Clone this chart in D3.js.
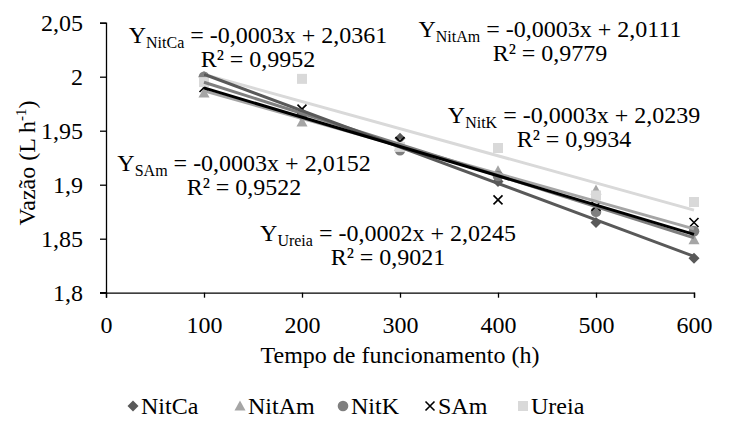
<!DOCTYPE html>
<html><head><meta charset="utf-8">
<script src="https://cdn.jsdelivr.net/npm/d3@7"></script>
<style>body{margin:0;background:#fff}svg{display:block}svg text{font-family:"Liberation Serif","Tinos","Times New Roman","DejaVu Serif",serif}</style>
</head><body><svg id="c" width="731" height="427"></svg>
<script>
const hours = [100, 200, 300, 400, 500, 600];
const nitCa = [2.000, 1.965, 1.943, 1.903, 1.865, 1.832];
const nitAm = [1.985, 1.958, 1.938, 1.913, 1.895, 1.849];
const nitK  = [2.000, 1.965, 1.932, 1.908, 1.875, 1.857];
const sAm   = [1.990, 1.970, 1.940, 1.886, 1.880, 1.865];
const ureia = [1.995, 1.998, 1.935, 1.934, 1.890, 1.884];
const xTicks = [0, 100, 200, 300, 400, 500, 600];
const yTicks = [1.8, 1.85, 1.9, 1.95, 2.0, 2.05];
const seriesNames = ["NitCa", "NitAm", "NitK", "SAm", "Ureia"];
const equations = [
  {sub:"NitCa", eq:" = -0,0003x + 2,0361", r2:"R² = 0,9952"},
  {sub:"NitAm", eq:" = -0,0003x + 2,0111", r2:"R² = 0,9779"},
  {sub:"NitK",  eq:" = -0,0003x + 2,0239", r2:"R² = 0,9934"},
  {sub:"SAm",   eq:" = -0,0003x + 2,0152", r2:"R² = 0,9522"},
  {sub:"Ureia", eq:" = -0,0002x + 2,0245", r2:"R² = 0,9021"}
];
// label anchor positions (pixel layout, not data)
const eqPos = [[258, 43], [550, 37], [574, 123], [244, 171], [388, 241]];

const FONT = "'Liberation Serif', Tinos, 'Times New Roman', 'DejaVu Serif', serif";
const svg = d3.select("#c");
const x = d3.scaleLinear().domain([0, 600]).range([106, 694]);
const y = d3.scaleLinear().domain([1.8, 2.05]).range([292.7, 22.7]);
const fmt = d => String(d).replace(".", ",");

const data = [nitCa, nitAm, nitK, sAm, ureia];
const colors = ["#595959", "#a5a5a5", "#7f7f7f", "#000000", "#d9d9d9"];
const lineColors = ["#595959", "#a5a5a5", "#7f7f7f", "#000000", "#d9d9d9"];

function marker(g, i, cx, cy) {
  const c = colors[i];
  if (i === 0) g.append("path").attr("d", `M${cx},${cy-5.5}L${cx+5.5},${cy}L${cx},${cy+5.5}L${cx-5.5},${cy}Z`).attr("fill", c);
  else if (i === 1) g.append("path").attr("d", `M${cx},${cy-5.5}L${cx+5.5},${cy+4.5}L${cx-5.5},${cy+4.5}Z`).attr("fill", c);
  else if (i === 2) g.append("circle").attr("cx", cx).attr("cy", cy).attr("r", 5.3).attr("fill", c);
  else if (i === 3) g.append("path").attr("d", `M${cx-4.5},${cy-4.5}L${cx+4.5},${cy+4.5}M${cx-4.5},${cy+4.5}L${cx+4.5},${cy-4.5}`).attr("stroke", c).attr("stroke-width", 1.6);
  else g.append("rect").attr("x", cx-5).attr("y", cy-5).attr("width", 10).attr("height", 10).attr("fill", c);
}

// axes
const xa = svg.append("g").attr("transform", `translate(0,${y(1.8)})`)
  .call(d3.axisBottom(x).tickValues(xTicks).tickSize(5).tickPadding(18).tickFormat(d => d));
const ya = svg.append("g").attr("transform", `translate(${x(0)},0)`)
  .call(d3.axisLeft(y).tickValues(yTicks).tickSize(6).tickPadding(17).tickFormat(fmt));
[xa, ya].forEach(a => {
  a.attr("font-family", FONT).attr("font-size", 24);
  a.select(".domain").attr("stroke", "#000").attr("stroke-width", 1.3);
  a.selectAll(".tick line").attr("stroke", "#000").attr("stroke-width", 1.3);
  a.selectAll("text").attr("font-size", 24).attr("fill", "#000").attr("font-family", FONT);
});
svg.append("line").attr("x1", x(0) - 6).attr("x2", x(0)).attr("y1", y(1.8)).attr("y2", y(1.8)).attr("stroke", "#000").attr("stroke-width", 1.3);

// markers
data.forEach((vals, i) => {
  const g = svg.append("g");
  vals.forEach((v, j) => marker(g, i, x(hours[j]), y(v)));
});

// trendlines (least squares from data)
function fit(vals) {
  const mx = d3.mean(hours), my = d3.mean(vals);
  let sxy = 0, sxx = 0;
  hours.forEach((h, i) => { sxy += (h - mx) * (vals[i] - my); sxx += (h - mx) ** 2; });
  const b = sxy / sxx; return {b, a: my - b * mx};
}
[4, 1, 2, 0, 3].forEach(i => {
  const f = fit(data[i]);
  svg.append("line")
    .attr("x1", x(100)).attr("y1", y(f.a + f.b * 100))
    .attr("x2", x(600)).attr("y2", y(f.a + f.b * 600))
    .attr("stroke", lineColors[i]).attr("stroke-width", 3);
});

// equations
equations.forEach((e, k) => {
  const [cx, cy] = eqPos[k];
  const t = svg.append("text").attr("x", cx).attr("y", cy).attr("text-anchor", "middle")
    .attr("font-size", 24).attr("font-family", FONT).attr("fill", "#000");
  t.append("tspan").text("Y");
  t.append("tspan").text(e.sub).attr("font-size", 16).attr("dy", 5);
  t.append("tspan").text(e.eq).attr("dy", -5);
  svg.append("text").attr("x", cx).attr("y", cy + 24).attr("text-anchor", "middle")
    .attr("font-size", 24).attr("font-family", FONT).attr("fill", "#000").text(e.r2);
});

// axis titles
svg.append("text").attr("transform", `translate(35,${163}) rotate(-90)`)
  .attr("text-anchor", "middle").attr("font-size", 24).attr("font-family", FONT).attr("fill", "#000")
  .call(t => { t.append("tspan").text("Vazão (L h"); t.append("tspan").text("-1").attr("font-size", 15).attr("dy", -9); t.append("tspan").text(")").attr("dy", 9); });
svg.append("text").attr("x", (x(0) + x(600)) / 2).attr("y", 363).attr("text-anchor", "middle")
  .attr("font-size", 24).attr("font-family", FONT).attr("fill", "#000").text("Tempo de funcionamento (h)");

// legend
const legX = [133, 240, 343, 430, 523];
seriesNames.forEach((n, i) => {
  const cx = legX[i], cy = 406;
  marker(svg, i, cx, cy);
  svg.append("text").attr("x", cx + 8).attr("y", cy + 8).attr("font-size", 24).attr("font-family", FONT).attr("fill", "#000").text(n);
});
</script></body></html>
